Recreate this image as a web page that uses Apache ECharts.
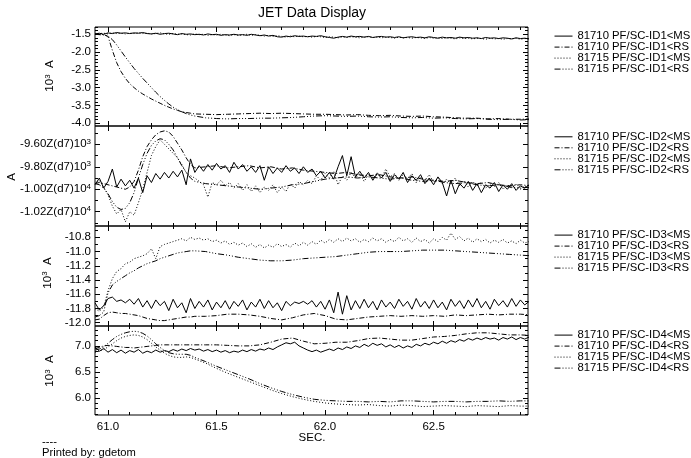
<!DOCTYPE html>
<html>
<head>
<meta charset="utf-8">
<script src="https://cdn.jsdelivr.net/npm/echarts@6.0.0/dist/echarts.min.js"></script>
<style>
  html, body { margin: 0; padding: 0; background: #fff; }
  #chart { width: 691px; height: 458px; }
</style>
</head>
<body>
<div id="chart"></div>
<script>
// ---- time bases (s) ----
const tFine = [
  60.94,60.96,60.98,61.00,61.02,61.04,61.06,61.08,61.10,61.12,
  61.14,61.16,61.18,61.20,61.22,61.24,61.26,61.28,61.30,61.32,
  61.34,61.36,61.38,61.40,61.42,61.44,61.46,61.48,61.50,61.52,
  61.54,61.56,61.58,61.60,61.62,61.64,61.66,61.68,61.70,61.72,
  61.74,61.76,61.78,61.80,61.82,61.84,61.86,61.88,61.90,61.92,
  61.94,61.96,61.98,62.00,62.02,62.04,62.06,62.08,62.10,62.12,
  62.14,62.16,62.18,62.20,62.22,62.24,62.26,62.28,62.30,62.32,
  62.34,62.36,62.38,62.40,62.42,62.44,62.46,62.48,62.50,62.52,
  62.54,62.56,62.58,62.60,62.62,62.64,62.66,62.68,62.70,62.72,
  62.74,62.76,62.78,62.80,62.82,62.84,62.86,62.88,62.90,62.92,
  62.94
];
const tCoarse = [
  60.94,60.96,60.98,61.00,61.02,61.04,61.06,61.08,61.10,61.12,61.14,61.16,61.18,61.20,61.22,61.24,61.26,61.28,61.30,61.32,61.34,61.36,61.38,61.40,
  61.45,61.50,61.55,61.60,61.65,61.70,61.75,61.80,61.85,61.90,61.95,62.00,62.05,62.10,62.15,62.20,62.25,62.30,62.35,62.40,62.45,62.50,62.55,62.60,62.65,62.70,62.75,62.80,62.85,62.90,62.95
];

// ---- ID1 (10^3 A) ----
const id1Ms10 = [
  -1.49,-1.47,-1.50,-1.46,-1.48,-1.45,-1.47,-1.46,-1.48,-1.46,
  -1.47,-1.45,-1.48,-1.49,-1.47,-1.50,-1.48,-1.47,-1.49,-1.51,
  -1.48,-1.50,-1.49,-1.51,-1.50,-1.52,-1.49,-1.51,-1.50,-1.53,
  -1.51,-1.52,-1.50,-1.52,-1.51,-1.53,-1.50,-1.52,-1.54,-1.52,
  -1.55,-1.53,-1.57,-1.58,-1.55,-1.57,-1.54,-1.56,-1.55,-1.57,
  -1.55,-1.56,-1.54,-1.57,-1.59,-1.61,-1.58,-1.56,-1.58,-1.55,
  -1.57,-1.56,-1.58,-1.56,-1.59,-1.57,-1.56,-1.58,-1.57,-1.59,
  -1.57,-1.60,-1.58,-1.57,-1.59,-1.58,-1.60,-1.57,-1.59,-1.61,
  -1.58,-1.60,-1.59,-1.61,-1.58,-1.60,-1.59,-1.61,-1.60,-1.62,
  -1.59,-1.61,-1.60,-1.62,-1.60,-1.61,-1.63,-1.60,-1.62,-1.61,
  -1.63
];
const id1Rs10 = [
  -1.49,-1.50,-1.51,-1.56,-1.95,-2.30,-2.55,-2.74,-2.89,-3.00,-3.10,-3.18,-3.25,-3.32,-3.38,-3.44,-3.50,-3.55,-3.60,-3.64,-3.68,-3.70,-3.72,-3.74,
  -3.75,-3.76,-3.75,-3.74,-3.73,-3.72,-3.73,-3.72,-3.73,-3.74,-3.75,-3.75,-3.76,-3.77,-3.76,-3.78,-3.79,-3.78,-3.80,-3.81,-3.80,-3.82,-3.83,-3.85,-3.86,-3.86,-3.88,-3.87,-3.89,-3.89,-3.88
];
const id1Ms15 = [
  -1.50,-1.48,-1.47,-1.49,-1.46,-1.48,-1.47,-1.49,-1.47,-1.48,
  -1.46,-1.48,-1.47,-1.49,-1.48,-1.46,-1.49,-1.50,-1.48,-1.50,
  -1.49,-1.51,-1.52,-1.49,-1.51,-1.50,-1.53,-1.51,-1.52,-1.50,
  -1.52,-1.54,-1.51,-1.53,-1.52,-1.50,-1.53,-1.51,-1.53,-1.55,
  -1.53,-1.56,-1.54,-1.56,-1.58,-1.55,-1.57,-1.55,-1.57,-1.56,
  -1.58,-1.56,-1.57,-1.59,-1.57,-1.58,-1.60,-1.57,-1.59,-1.57,
  -1.58,-1.60,-1.58,-1.57,-1.59,-1.58,-1.60,-1.58,-1.59,-1.61,
  -1.58,-1.60,-1.59,-1.61,-1.59,-1.60,-1.62,-1.59,-1.61,-1.60,
  -1.62,-1.60,-1.61,-1.63,-1.60,-1.62,-1.61,-1.63,-1.61,-1.62,
  -1.64,-1.61,-1.63,-1.62,-1.64,-1.62,-1.63,-1.61,-1.64,-1.62,
  -1.63
];
const id1Rs15 = [
  -1.50,-1.51,-1.52,-1.55,-1.65,-1.80,-1.97,-2.14,-2.30,-2.46,-2.60,-2.74,-2.87,-3.00,-3.13,-3.25,-3.36,-3.46,-3.55,-3.62,-3.68,-3.73,-3.77,-3.80,
  -3.85,-3.87,-3.88,-3.87,-3.87,-3.86,-3.86,-3.85,-3.84,-3.82,-3.80,-3.79,-3.80,-3.81,-3.80,-3.82,-3.83,-3.82,-3.84,-3.85,-3.84,-3.86,-3.85,-3.87,-3.88,-3.87,-3.89,-3.90,-3.89,-3.91,-3.90
];

// ---- ID2 (A) ----
const id2Ms10 = [
  -9960,-9900,-9990,-9930,-9820,-9980,-9910,-9970,-9920,-9990,
  -9900,-10030,-9880,-9940,-9860,-9910,-9850,-9900,-9840,-9890,
  -9830,-9960,-9730,-9850,-9790,-9840,-9780,-9830,-9770,-9820,
  -9790,-9850,-9760,-9820,-9780,-9840,-9800,-9850,-9790,-9920,
  -9800,-9860,-9810,-9850,-9790,-9840,-9810,-9860,-9800,-9850,
  -9820,-9880,-9840,-9900,-9850,-9910,-9800,-9700,-9880,-9710,
  -9890,-9840,-9900,-9850,-9920,-9860,-9900,-9850,-9930,-9870,
  -9910,-9850,-9940,-9880,-9920,-9870,-9950,-9900,-9960,-9890,
  -9940,-10060,-9920,-10040,-9950,-9990,-9930,-10010,-9950,-10030,
  -9960,-9990,-9940,-10020,-9960,-10000,-9950,-10010,-9970,-9990,
  -9960
];
const id2Rs10 = [
  -9950,-9940,-9950,-9960,-9970,-9980,-9990,-10000,-9980,-9930,-9830,-9710,-9620,-9560,-9515,-9490,-9480,-9490,-9530,-9590,-9650,-9720,-9780,-9810,
  -9800,-9790,-9810,-9800,-9790,-9810,-9800,-9820,-9810,-9830,-9840,-9850,-9860,-9850,-9870,-9880,-9870,-9890,-9900,-9890,-9910,-9920,-9930,-9920,-9940,-9950,-9940,-9960,-9970,-9960,-9970
];
const id2Ms15 = [
  -9950,-9920,-9980,-10050,-10150,-10220,-10180,-10290,-10200,-10230,
  -10120,-10000,-9850,-9700,-9620,-9560,-9600,-9640,-9680,-9720,
  -9780,-9850,-9880,-9900,-9930,-9960,-10070,-9940,-9960,-9920,
  -9970,-9940,-9990,-9950,-10010,-9960,-10020,-9970,-10030,-9980,
  -10010,-9960,-10030,-9980,-10020,-9950,-9990,-9930,-9960,-9920,
  -9950,-9880,-9920,-9860,-9900,-9840,-9960,-9880,-9920,-9850,
  -9900,-9860,-9930,-9870,-9910,-9850,-9900,-9820,-9890,-9860,
  -9920,-9870,-9910,-9860,-9940,-9890,-9920,-9870,-9940,-9900,
  -9950,-9910,-9960,-9900,-9970,-9920,-9980,-9930,-9970,-9940,
  -9990,-9950,-9980,-9940,-10000,-9960,-9990,-9950,-10000,-9970,
  -9990
];
const id2Rs15 = [
  -9950,-9960,-9990,-10040,-10110,-10160,-10180,-10170,-10120,-10030,-9900,-9780,-9680,-9610,-9570,-9550,-9560,-9600,-9650,-9720,-9790,-9850,-9900,-9930,
  -9950,-9960,-9970,-9980,-9990,-10000,-9990,-9980,-9960,-9950,-9930,-9910,-9900,-9890,-9900,-9890,-9900,-9910,-9900,-9920,-9930,-9920,-9940,-9950,-9940,-9960,-9970,-9960,-9980,-9990,-9980
];

// ---- ID3 (10^3 A) ----
const id3Ms10 = [
  -11.72,-11.82,-11.76,-11.66,-11.64,-11.70,-11.68,-11.72,-11.67,-11.74,
  -11.66,-11.78,-11.69,-11.80,-11.68,-11.76,-11.70,-11.83,-11.67,-11.79,
  -11.72,-11.86,-11.66,-11.80,-11.70,-11.78,-11.68,-11.82,-11.71,-11.79,
  -11.69,-11.81,-11.70,-11.77,-11.68,-11.82,-11.71,-11.78,-11.67,-11.80,
  -11.69,-11.79,-11.72,-11.83,-11.70,-11.76,-11.71,-11.73,-11.70,-11.74,
  -11.69,-11.78,-11.70,-11.81,-11.68,-11.86,-11.57,-11.88,-11.62,-11.82,
  -11.69,-11.80,-11.67,-11.79,-11.70,-11.82,-11.68,-11.78,-11.71,-11.80,
  -11.67,-11.77,-11.70,-11.81,-11.66,-11.78,-11.70,-11.80,-11.68,-11.79,
  -11.71,-11.82,-11.67,-11.77,-11.69,-11.80,-11.68,-11.78,-11.66,-11.79,
  -11.70,-11.81,-11.67,-11.76,-11.69,-11.78,-11.66,-11.77,-11.68,-11.75,
  -11.70
];
const id3Rs10 = [
  -11.96,-11.95,-11.90,-11.86,-11.85,-11.86,-11.87,-11.87,-11.88,-11.89,-11.90,-11.92,-11.94,-11.95,-11.96,-11.97,-11.97,-11.96,-11.95,-11.94,-11.93,-11.92,-11.92,-11.91,
  -11.91,-11.90,-11.88,-11.88,-11.89,-11.91,-11.94,-11.96,-11.93,-11.89,-11.87,-11.90,-11.95,-11.96,-11.94,-11.92,-11.91,-11.90,-11.91,-11.90,-11.91,-11.90,-11.91,-11.89,-11.90,-11.89,-11.88,-11.89,-11.88,-11.88,-11.89
];
const id3Ms15 = [
  -11.80,-11.84,-11.78,-11.55,-11.38,-11.28,-11.24,-11.17,-11.15,-11.10,
  -11.08,-11.06,-11.03,-10.96,-11.10,-10.93,-10.90,-10.88,-10.86,-10.84,
  -10.82,-10.85,-10.80,-10.83,-10.81,-10.84,-10.82,-10.86,-10.84,-10.88,
  -10.85,-10.90,-10.87,-10.91,-10.88,-10.93,-10.89,-10.94,-10.90,-10.95,
  -10.91,-10.94,-10.89,-10.93,-10.90,-10.94,-10.88,-10.92,-10.87,-10.91,
  -10.86,-10.90,-10.84,-10.88,-10.83,-10.87,-10.82,-10.86,-10.81,-10.85,
  -10.82,-10.87,-10.83,-10.86,-10.81,-10.85,-10.82,-10.87,-10.83,-10.86,
  -10.80,-10.85,-10.82,-10.87,-10.81,-10.86,-10.83,-10.88,-10.82,-10.86,
  -10.80,-10.84,-10.74,-10.83,-10.79,-10.85,-10.81,-10.87,-10.82,-10.86,
  -10.83,-10.88,-10.84,-10.87,-10.83,-10.88,-10.85,-10.89,-10.84,-10.88,
  -10.86
];
const id3Rs15 = [
  -11.92,-11.90,-11.85,-11.58,-11.47,-11.42,-11.38,-11.34,-11.30,-11.27,-11.23,-11.20,-11.17,-11.15,-11.13,-11.10,-11.08,-11.06,-11.04,-11.02,-11.01,-11.00,-10.99,-10.99,
  -11.00,-11.03,-11.05,-11.08,-11.10,-11.12,-11.13,-11.13,-11.12,-11.10,-11.09,-11.08,-11.07,-11.05,-11.03,-11.01,-11.00,-11.00,-11.00,-10.99,-10.98,-10.98,-10.98,-10.99,-11.00,-11.01,-11.02,-11.03,-11.04,-11.05,-11.06
];

// ---- ID4 (10^3 A) ----
const id4Ms10 = [
  6.98,6.90,6.95,6.88,6.93,6.87,6.92,6.86,6.91,6.88,
  6.93,6.86,6.90,6.87,6.92,6.88,6.91,6.89,6.93,6.90,
  6.94,6.91,6.95,6.92,6.94,6.90,6.93,6.89,6.92,6.88,
  6.91,6.87,6.90,6.88,6.92,6.89,6.93,6.90,6.94,6.92,
  6.96,6.93,6.98,7.02,7.06,7.04,7.07,7.00,6.96,6.92,
  6.89,6.92,6.88,6.91,6.94,6.91,6.96,6.93,6.98,6.95,
  7.00,6.97,7.03,6.99,7.05,7.01,7.04,6.98,7.02,6.97,
  7.01,6.96,7.00,6.97,7.03,7.00,7.05,7.02,7.07,7.04,
  7.09,7.05,7.10,7.07,7.12,7.09,7.14,7.11,7.15,7.12,
  7.16,7.13,7.15,7.11,7.16,7.13,7.17,7.12,7.16,7.13,
  7.17
];
const id4Rs10 = [
  6.95,6.97,7.00,7.01,7.00,6.99,6.98,6.97,6.97,6.96,6.97,6.98,6.99,7.00,7.01,7.02,7.02,7.02,7.02,7.02,7.02,7.02,7.02,7.02,
  7.02,7.02,7.01,7.00,7.00,7.02,7.07,7.13,7.15,7.09,7.04,7.05,7.07,7.07,7.10,7.14,7.15,7.13,7.11,7.11,7.14,7.17,7.18,7.20,7.23,7.25,7.25,7.23,7.21,7.21,7.20
];
const id4Ms15 = [
  6.88,6.90,6.93,6.98,7.04,7.10,7.15,7.18,7.20,7.21,7.20,7.17,7.12,7.05,6.98,6.92,6.86,6.82,6.79,6.78,6.78,6.79,6.78,6.75,
  6.67,6.57,6.48,6.40,6.32,6.24,6.16,6.09,6.03,5.98,5.94,5.91,5.89,5.88,5.87,5.88,5.86,5.85,5.87,5.86,5.84,5.85,5.86,5.85,5.84,5.86,5.85,5.84,5.86,5.85,5.85
];
const id4Rs15 = [
  6.92,6.94,6.98,7.05,7.12,7.18,7.22,7.25,7.27,7.28,7.27,7.24,7.19,7.12,7.04,6.97,6.91,6.87,6.85,6.84,6.84,6.84,6.82,6.78,
  6.70,6.61,6.53,6.45,6.37,6.28,6.20,6.13,6.07,6.02,5.98,5.96,5.95,5.94,5.94,5.93,5.94,5.93,5.95,5.95,5.94,5.93,5.94,5.94,5.93,5.94,5.94,5.95,5.94,5.95,5.95
];

// ---- ticks / labels ----
const xTicks = [61.0, 61.5, 62.0, 62.5];
const xLabels = ["61.0", "61.5", "62.0", "62.5"];
const id1Ticks = [-4.0, -3.5, -3.0, -2.5, -2.0, -1.5];
const id1Labels = ["-4.0", "-3.5", "-3.0", "-2.5", "-2.0", "-1.5"];
const id2Ticks = [-10200, -10000, -9800, -9600];
const id2Mant = ["-1.02Z(d7)10", "-1.00Z(d7)10", "-9.80Z(d7)10", "-9.60Z(d7)10"];
const id2Exp = ["4", "4", "3", "3"];
const id3Ticks = [-12.0, -11.8, -11.6, -11.4, -11.2, -11.0, -10.8];
const id3Labels = ["-12.0", "-11.8", "-11.6", "-11.4", "-11.2", "-11.0", "-10.8"];
const id4Ticks = [6.0, 6.5, 7.0];
const id4Labels = ["6.0", "6.5", "7.0"];

const seriesNames = [
  ["81710 PF/SC-ID1<MS", "81710 PF/SC-ID1<RS", "81715 PF/SC-ID1<MS", "81715 PF/SC-ID1<RS"],
  ["81710 PF/SC-ID2<MS", "81710 PF/SC-ID2<RS", "81715 PF/SC-ID2<MS", "81715 PF/SC-ID2<RS"],
  ["81710 PF/SC-ID3<MS", "81710 PF/SC-ID3<RS", "81715 PF/SC-ID3<MS", "81715 PF/SC-ID3<RS"],
  ["81710 PF/SC-ID4<MS", "81710 PF/SC-ID4<RS", "81715 PF/SC-ID4<MS", "81715 PF/SC-ID4<RS"],
];

// ---- layout ----
const FONT = "'Liberation Sans', Arial, Helvetica, sans-serif";
const X_MIN = 60.94, X_MAX = 62.935;
const PLOT_L = 95, PLOT_R = 528, W = 691;
const STYLES = ["solid", [5, 2, 1, 2], [1, 2], [6, 2, 1, 2, 1, 2, 1, 2]];

const panels = [
  { top: 27, height: 99, min: -4.08, max: -1.295, ticks: id1Ticks, minor: 0.1,
    fmt: v => id1Labels[idx(id1Ticks, v)],
    lines: [[tFine, id1Ms10], [tCoarse, id1Rs10], [tFine, id1Ms15], [tCoarse, id1Rs15]],
    legendTop: 30.6, name: { x: 50, y: 76, text: "{n|10}{s|3}{n|  A}" } },
  { top: 126, height: 100, min: -10327, max: -9437, ticks: id2Ticks, minor: 100,
    fmt: v => { const i = idx(id2Ticks, v); return "{m|" + id2Mant[i] + "}{s|" + id2Exp[i] + "}"; },
    lines: [[tFine, id2Ms10], [tCoarse, id2Rs10], [tFine, id2Ms15], [tCoarse, id2Rs15]],
    legendTop: 131.3, name: { x: 12, y: 177, text: "{n|A}" } },
  { top: 226, height: 100, min: -12.046, max: -10.641, ticks: id3Ticks, minor: 0.1,
    fmt: v => id3Labels[idx(id3Ticks, v)],
    lines: [[tFine, id3Ms10], [tCoarse, id3Rs10], [tFine, id3Ms15], [tCoarse, id3Rs15]],
    legendTop: 229.6, name: { x: 47.5, y: 273, text: "{n|10}{s|3}{n|  A}" } },
  { top: 326, height: 89, min: 5.68, max: 7.38, ticks: id4Ticks, minor: 0.1,
    fmt: v => id4Labels[idx(id4Ticks, v)],
    lines: [[tFine, id4Ms10], [tCoarse, id4Rs10], [tCoarse, id4Ms15], [tCoarse, id4Rs15]],
    legendTop: 329.6, name: { x: 50, y: 371, text: "{n|10}{s|3}{n|  A}" } },
];

function idx(arr, v) {
  let best = 0;
  arr.forEach((a, i) => { if (Math.abs(a - v) < Math.abs(arr[best] - v)) best = i; });
  return best;
}

function steps(min, max, step) {
  const out = [];
  for (let k = Math.ceil(min / step - 1e-9); k * step <= max + 1e-9; k++) out.push(+(k * step).toFixed(6));
  return out;
}

const labelFont = { fontSize: 11.5, fontFamily: FONT, color: "#000" };
const supFont = { fontSize: 8, fontFamily: FONT, color: "#000", fill: "#000", padding: [0, 0, 5, 0] };

function tick(len, vals) {
  return { show: true, inside: true, length: len, customValues: vals, lineStyle: { color: "#000", width: 1 } };
}

function xAxesFor(gi, showLabels) {
  const base = { type: "value", gridIndex: gi, min: X_MIN, max: X_MAX,
    axisLine: { show: false, onZero: false }, splitLine: { show: false } };
  const minors = steps(X_MIN, X_MAX, 0.1);
  const lbl = showLabels
    ? { show: true, customValues: xTicks, margin: 6, ...labelFont, formatter: v => xLabels[idx(xTicks, v)] }
    : { show: false };
  return [
    { ...base, position: "bottom", axisTick: tick(5, xTicks), axisLabel: lbl },
    { ...base, position: "bottom", axisTick: tick(3, minors), axisLabel: { show: false } },
    { ...base, position: "top", axisTick: tick(5, xTicks), axisLabel: { show: false } },
    { ...base, position: "top", axisTick: tick(3, minors), axisLabel: { show: false } },
  ];
}

function yAxesFor(gi, p) {
  const base = { type: "value", gridIndex: gi, min: p.min, max: p.max,
    axisLine: { show: false, onZero: false }, splitLine: { show: false } };
  const minors = steps(p.min, p.max, p.minor);
  return [
    { ...base, position: "left", axisTick: tick(5, p.ticks),
      axisLabel: { show: true, customValues: p.ticks, margin: 4, ...labelFont, formatter: p.fmt,
        rich: { m: { ...labelFont }, s: supFont } } },
    { ...base, position: "left", axisTick: tick(3, minors), axisLabel: { show: false } },
    { ...base, position: "right", axisTick: tick(5, p.ticks), axisLabel: { show: false } },
    { ...base, position: "right", axisTick: tick(3, minors), axisLabel: { show: false } },
  ];
}

const grid = [], xAxis = [], yAxis = [], series = [], legend = [], graphic = [];

panels.forEach((p, gi) => {
  grid.push({ left: PLOT_L, right: W - PLOT_R, top: p.top, height: p.height, show: true,
    borderColor: "#000", borderWidth: 1, backgroundColor: "transparent", outerBoundsMode: "none" });
  xAxis.push(...xAxesFor(gi, gi === panels.length - 1));
  yAxis.push(...yAxesFor(gi, p));
  p.lines.forEach(([ts, vs], k) => {
    if (ts.length !== vs.length) console.error("length mismatch", gi, k, ts.length, vs.length);
    series.push({
      type: "line", name: seriesNames[gi][k], xAxisIndex: gi * 4, yAxisIndex: gi * 4,
      data: ts.map((t, j) => [t, vs[j]]), symbol: "none", clip: true,
      lineStyle: { color: "#000", width: 1, type: STYLES[k] }, itemStyle: { color: "#000" },
    });
  });
  legend.push({ orient: "vertical", left: 554, top: p.legendTop, itemWidth: 18, itemHeight: 8, itemGap: 0,
    padding: 0, selectedMode: false, data: seriesNames[gi],
    itemStyle: { opacity: 0, borderWidth: 0 },
    lineStyle: { width: 1 },
    textStyle: { fontSize: 11.3, fontFamily: FONT, color: "#000", lineHeight: 10.8 } });
  graphic.push({ type: "text", x: p.name.x, y: p.name.y, rotation: Math.PI / 2,
    style: { text: p.name.text, align: "center", verticalAlign: "middle",
      rich: { n: { fontSize: 11.5, fontFamily: FONT, fill: "#000", color: "#000" }, s: supFont } } });
});

graphic.push(
  { type: "text", x: 312, y: 13, style: { text: "JET Data Display", font: "14px " + FONT, fill: "#000", align: "center", verticalAlign: "middle" } },
  { type: "text", x: 312, y: 438, style: { text: "SEC.", font: "11.5px " + FONT, fill: "#000", align: "center", verticalAlign: "middle" } },
  { type: "text", x: 42, y: 442, style: { text: "----", font: "11.2px " + FONT, fill: "#000", align: "left", verticalAlign: "middle" } },
  { type: "text", x: 42, y: 453, style: { text: "Printed by: gdetom", font: "11.2px " + FONT, fill: "#000", align: "left", verticalAlign: "middle" } }
);

const chart = echarts.init(document.getElementById("chart"));
chart.setOption({
  animation: false,
  backgroundColor: "#fff",
  textStyle: { fontFamily: FONT },
  grid, xAxis, yAxis, series, legend, graphic,
});
</script>
</body>
</html>
